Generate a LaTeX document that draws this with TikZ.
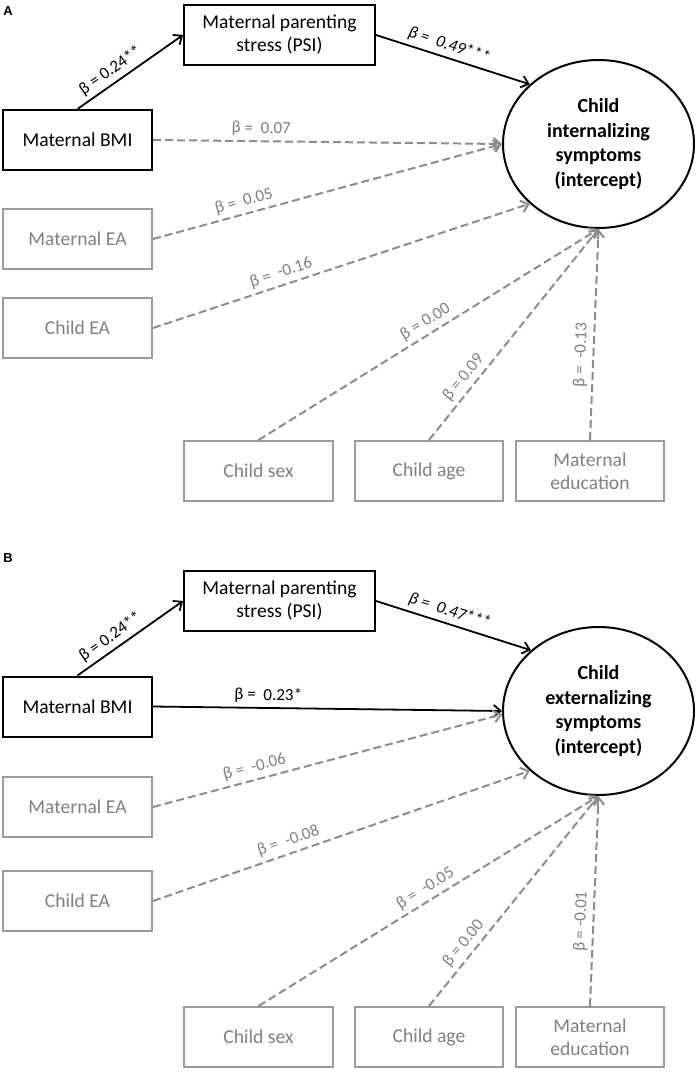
\documentclass[tikz,border=0pt]{standalone}
\usepackage{fontspec}
\setmainfont{Carlito}
\newfontfamily\panelfont{Liberation Sans}
\usetikzlibrary{arrows.meta,shapes.geometric}
\definecolor{lgray}{RGB}{140,140,140}
\definecolor{bgray}{RGB}{155,155,155}
\definecolor{tgray}{RGB}{128,128,128}
\begin{document}
\begin{tikzpicture}[x=1pt,y=-1pt,
  boxbase/.style={rectangle, minimum width=149pt, minimum height=60pt, inner sep=2pt, align=center, font=\fontsize{19.6}{23}\selectfont, line width=2pt},
  blackbox/.style={boxbase, draw=black, text=black},
  graybox/.style={boxbase, draw=bgray, text=tgray},
  latent/.style={ellipse, draw=black, line width=2pt, minimum width=191pt, minimum height=168pt, inner sep=0pt, align=center, font=\bfseries\fontsize{20}{24.6}\selectfont},
  solidpath/.style={draw=black, line width=1.8pt, -{Straight Barb[length=7pt,width=12pt]}},
  dashpath/.style={draw=lgray, line width=2pt, dash pattern=on 8pt off 4pt, -{Straight Barb[length=7pt,width=12pt]}},
  blab/.style={font=\fontsize{17}{20}\selectfont, text=black, sloped, above, inner sep=4pt},
  glab/.style={font=\fontsize{17}{20}\selectfont, text=tgray, sloped, above, inner sep=4pt},
  panel/.style={font=\panelfont\bfseries\fontsize{13}{15}\selectfont, inner sep=0pt}
]
\useasboundingbox (0,0) rectangle (697,1073);

% ---------------- Panel A ----------------
\node[panel] (lA) at (8,11.5) {A};
\node[blackbox, minimum width=191pt] (psiA) at (279.5,35) {Maternal parenting\\stress (PSI)};
\node[blackbox] (bmiA) at (77.5,140) {Maternal BMI};
\node[graybox] (meaA) at (77.5,239) {Maternal EA};
\node[graybox] (ceaA) at (77.5,328) {Child EA};
\node[graybox] (csA) at (258.5,471) {Child sex};
\node[graybox, minimum width=148pt] (caA) at (429,471) {Child age};
\node[graybox, minimum width=148pt] (edA) at (590,471) {Maternal\\education};
\node[latent] (outA) at (598.5,144) {Child\\internalizing\\symptoms\\(intercept)};

\draw[solidpath] (bmiA.north) -- node[blab, pos=0.38] {β = 0.24**} (psiA.west);
\draw[solidpath] (psiA.east) -- node[blab, pos=0.45, font=\itshape\fontsize{17}{20}\selectfont] {β = ~0.49***} (outA.139);
\draw[dashpath] (bmiA.east) -- node[glab, pos=0.31] {β = ~0.07} (outA.180);
\draw[dashpath] (meaA.east) -- node[glab, pos=0.27] {β = ~0.05} (outA.180);
\draw[dashpath] (ceaA.east) -- node[glab, pos=0.35] {β = ~-0.16} (outA.221);
\draw[dashpath] (csA.north) -- node[glab, pos=0.51] {β = 0.00} (outA.270);
\draw[dashpath] (caA.north) -- node[glab, pos=0.26] {β = 0.09} (outA.270);
\draw[dashpath] (edA.north) -- node[glab, pos=0.40] {β = ~-0.13} (outA.270);

% ---------------- Panel B ----------------
\node[panel] (lB) at (8,558) {B};
\node[blackbox, minimum width=191pt] (psiB) at (279.5,601) {Maternal parenting\\stress (PSI)};
\node[blackbox] (bmiB) at (77.5,706.5) {Maternal BMI};
\node[graybox] (meaB) at (77.5,807) {Maternal EA};
\node[graybox] (ceaB) at (77.5,901) {Child EA};
\node[graybox] (csB) at (258.5,1037) {Child sex};
\node[graybox, minimum width=148pt] (caB) at (429,1037) {Child age};
\node[graybox, minimum width=148pt] (edB) at (590,1037) {Maternal\\education};
\node[latent] (outB) at (598.5,711) {Child\\externalizing\\symptoms\\(intercept)};

\draw[solidpath] (bmiB.north) -- node[blab, pos=0.38] {β = 0.24**} (psiB.west);
\draw[solidpath] (psiB.east) -- node[blab, pos=0.45, font=\itshape\fontsize{17}{20}\selectfont] {β = ~0.47***} (outB.138);
\draw[solidpath] (bmiB.east) -- node[blab, pos=0.33] {β = ~0.23*} (outB.180);
\draw[dashpath] (meaB.east) -- node[glab, pos=0.30] {β = ~-0.06} (outB.182);
\draw[dashpath] (ceaB.east) -- node[glab, pos=0.37] {β = ~-0.08} (outB.221);
\draw[dashpath] (csB.north) -- node[glab, pos=0.51] {β = ~-0.05} (outB.270);
\draw[dashpath] (caB.north) -- node[glab, pos=0.26] {β = 0.00} (outB.270);
\draw[dashpath] (edB.north) -- node[glab, pos=0.40] {β = -0.01} (outB.270);
\end{tikzpicture}
\end{document}
